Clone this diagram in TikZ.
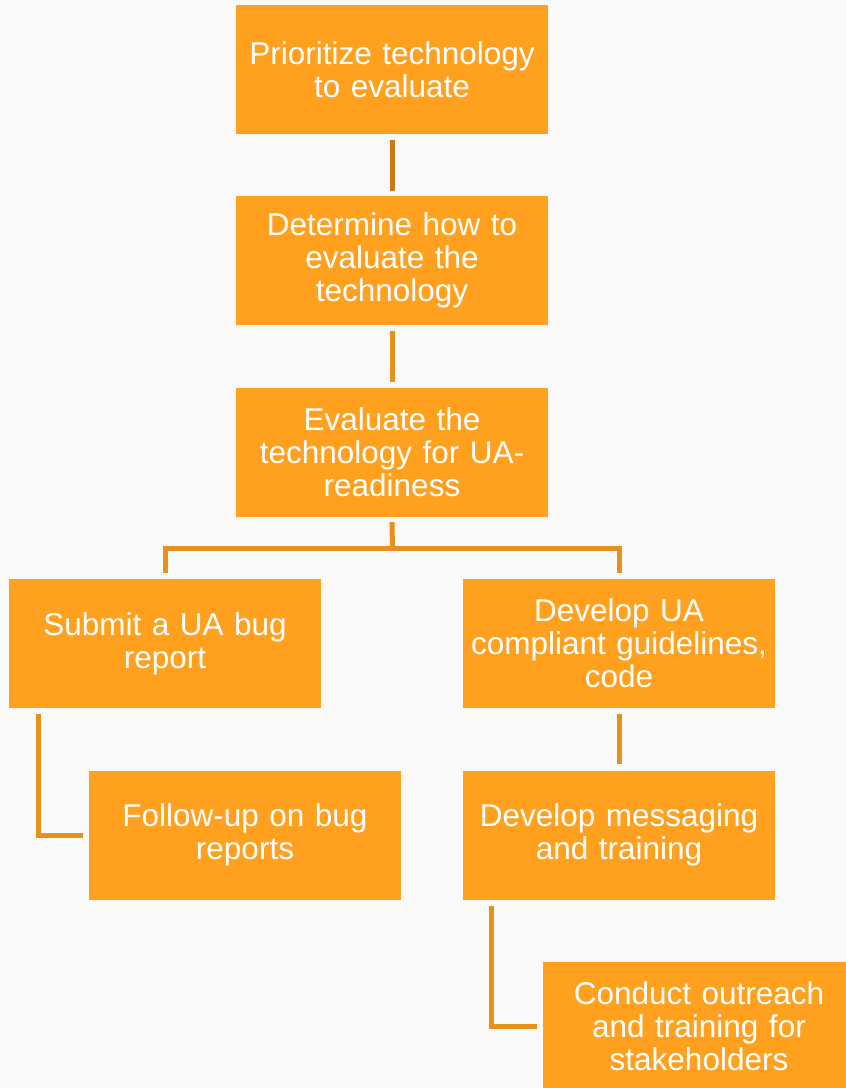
\documentclass[tikz,border=0pt]{standalone}
\usepackage{fontspec}
\setmainfont{Liberation Sans}
\definecolor{bg}{HTML}{F9F9F9}
\definecolor{boxfill}{HTML}{FFA01F}
\definecolor{connc}{HTML}{E8901C}
\definecolor{conndark}{HTML}{CC7A14}
\tikzset{
  stepbox/.style={fill=boxfill, text=white, minimum width=312pt, minimum height=129pt,
    inner sep=0pt, align=center, text width=308pt,
    font=\fontsize{31.5pt}{32.8pt}\selectfont},
  conn/.style={draw=connc, line width=5pt},
}
\begin{document}
\begin{tikzpicture}[x=1pt,y=-1pt]
\clip (0,0) rectangle (846,1088);
\fill[bg] (0,0) rectangle (846,1088);
\node[stepbox] (b1) at (392,69.5) {Prioritize technology\\to evaluate};
\node[stepbox] (b2) at (392,260.5) {Determine how to\\evaluate the\\technology};
\node[stepbox] (b3) at (392,452.5) {Evaluate the\\technology for UA-\\readiness};
\node[stepbox] (b4) at (165,643.5) {Submit a UA bug\\report};
\node[stepbox] (b5) at (619,643.5) {Develop UA\\compliant guidelines,\\code};
\node[stepbox] (b6) at (245,835) {Follow-up on bug\\reports};
\node[stepbox] (b7) at (619,835) {Develop messaging\\and training};
\node[stepbox] (b8) at (699,1026.5) {Conduct outreach\\and training for\\stakeholders};
\coordinate (fork) at (392.5,548.5);
\draw[conn, draw=conndark, shorten <=6pt, shorten >=5pt] (b1) -- (b2);
\draw[conn, shorten <=6pt, shorten >=6pt] (b2) -- (b3);
\draw[conn] ([yshift=-5pt]b3.south) -- ([yshift=-2.5pt]fork);
\draw[conn] ([yshift=6pt]b4.north) |- (fork) -| ([yshift=6pt]b5.north);
\draw[conn, shorten <=6pt, shorten >=6pt] (b5) -- (b7);
\draw[conn] ([xshift=29.5pt,yshift=-6pt]b4.south west) |- ([xshift=-6pt]b6.west);
\draw[conn] ([xshift=29pt,yshift=-6pt]b7.south west) |- ([xshift=-6pt]b8.west);
\end{tikzpicture}
\end{document}
